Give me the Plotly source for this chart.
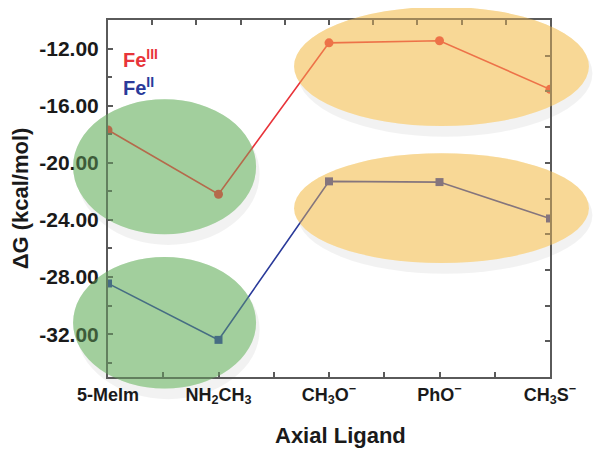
import plotly.graph_objects as go

# data
ligands = ["5-MeIm", "NH<sub>2</sub>CH<sub>3</sub>", "CH<sub>3</sub>O<sup>−</sup>",
           "PhO<sup>−</sup>", "CH<sub>3</sub>S<sup>−</sup>"]
fe3 = [-17.7, -22.2, -11.6, -11.45, -14.85]
fe2 = [-28.45, -32.4, -21.3, -21.35, -23.9]
yticks = [-12, -16, -20, -24, -28, -32]

xpos = list(range(len(ligands)))
font = "Liberation Sans, Arial, sans-serif"
axcol = "#5a5a5a"

fig = go.Figure()
fig.add_trace(go.Scatter(x=xpos, y=fe3, mode="lines+markers", name="FeIII",
                         line=dict(color="#e8343a", width=1.6),
                         marker=dict(symbol="circle", size=9, color="#e8343a")))
fig.add_trace(go.Scatter(x=xpos, y=fe2, mode="lines+markers", name="FeII",
                         line=dict(color="#2a3a9a", width=1.6),
                         marker=dict(symbol="square", size=8, color="#2a3a9a")))
# dummy trace so the top/right frame axes get drawn
fig.add_trace(go.Scatter(x=[0], y=[-10], xaxis="x2", yaxis="y2", mode="markers",
                         marker=dict(opacity=0), showlegend=False, hoverinfo="skip"))

# highlight ellipses (paper coords): solid base below the data, tint above it
ellipses = [
    (-0.079, 0.400, 0.335, 0.778, "rgb(200,226,198)", "rgba(110,180,100,0.42)"),
    (-0.079, -0.032, 0.335, 0.336, "rgb(200,226,198)", "rgba(110,180,100,0.42)"),
    (0.421, 0.703, 1.088, 1.037, "rgb(251,237,199)", "rgba(244,190,90,0.45)"),
    (0.421, 0.319, 1.088, 0.627, "rgb(251,237,199)", "rgba(244,190,90,0.45)"),
]
for x0, y0, x1, y1, base, tint in ellipses:
    fig.add_shape(type="circle", xref="paper", yref="paper", layer="below",
                  x0=x0 + 0.008, x1=x1 + 0.008, y0=y0 - 0.03, y1=y1 - 0.01,
                  fillcolor="rgba(0,0,0,0.05)", line_width=0)
for x0, y0, x1, y1, base, tint in ellipses:
    fig.add_shape(type="circle", xref="paper", yref="paper", layer="below",
                  x0=x0, x1=x1, y0=y0, y1=y1, fillcolor=base, line_width=0)
    fig.add_shape(type="circle", xref="paper", yref="paper", layer="above",
                  x0=x0, x1=x1, y0=y0, y1=y1, fillcolor=tint, line_width=0)

fig.add_annotation(x=0.03, y=0.933, xref="paper", yref="paper", xanchor="left",
                   showarrow=False, text="<b>Fe<sup>III</sup></b>",
                   font=dict(family=font, size=20, color="#e8343a"))
fig.add_annotation(x=0.03, y=0.855, xref="paper", yref="paper", xanchor="left",
                   showarrow=False, text="<b>Fe<sup>II</sup></b>",
                   font=dict(family=font, size=20, color="#2a3a9a"))
fig.add_annotation(x=0.527, y=-0.165, xref="paper", yref="paper", yanchor="middle",
                   showarrow=False, text="<b>Axial Ligand</b>",
                   font=dict(family=font, size=22, color="#1a1a1a"))

# page body adds an 8px offset, so margins are shifted to keep the plot box at 108..550 x 20..377
fig.update_layout(
    width=601, height=451,
    margin=dict(l=100, r=59, t=12, b=82),
    paper_bgcolor="white", plot_bgcolor="white",
    showlegend=False,
    font=dict(family=font, color="#1a1a1a"),
    xaxis=dict(range=[0, 4], tickvals=xpos, ticktext=["<b>%s</b>" % t for t in ligands],
               automargin=False,
               ticks="inside", ticklen=5, tickwidth=1.5, tickcolor=axcol,
               minor=dict(dtick=0.5, tick0=0, ticks="inside", ticklen=5, tickcolor=axcol),
               showline=True, linecolor=axcol, linewidth=2, showgrid=False, zeroline=False,
               tickfont=dict(size=18)),
    yaxis=dict(range=[-35, -10], tickvals=yticks,
               ticktext=["<b>%.2f</b>" % v for v in yticks],
               automargin=False,
               ticks="inside", ticklen=5, tickwidth=1.5, tickcolor=axcol,
               minor=dict(dtick=2, tick0=-12, ticks="inside", ticklen=4, tickcolor=axcol),
               showline=True, linecolor=axcol, linewidth=2, showgrid=False, zeroline=False,
               tickfont=dict(size=21), ticklabelstandoff=3,
               title=dict(text="<b>ΔG (kcal/mol)</b>", font=dict(size=22), standoff=10)),
    xaxis2=dict(range=[0, 4], overlaying="x", side="top", anchor="y2", dtick=0.4, tick0=0,
                automargin=False,
                ticks="inside", ticklen=5, tickwidth=1.5, tickcolor=axcol, showticklabels=False,
                showline=True, linecolor=axcol, linewidth=2, showgrid=False, zeroline=False),
    yaxis2=dict(range=[-35, -10], overlaying="y", side="right", anchor="x2", dtick=2.5, tick0=-10,
                automargin=False,
                ticks="inside", ticklen=5, tickwidth=1.5, tickcolor=axcol, showticklabels=False,
                showline=True, linecolor=axcol, linewidth=2, showgrid=False, zeroline=False),
)

fig.write_html("out.html")
